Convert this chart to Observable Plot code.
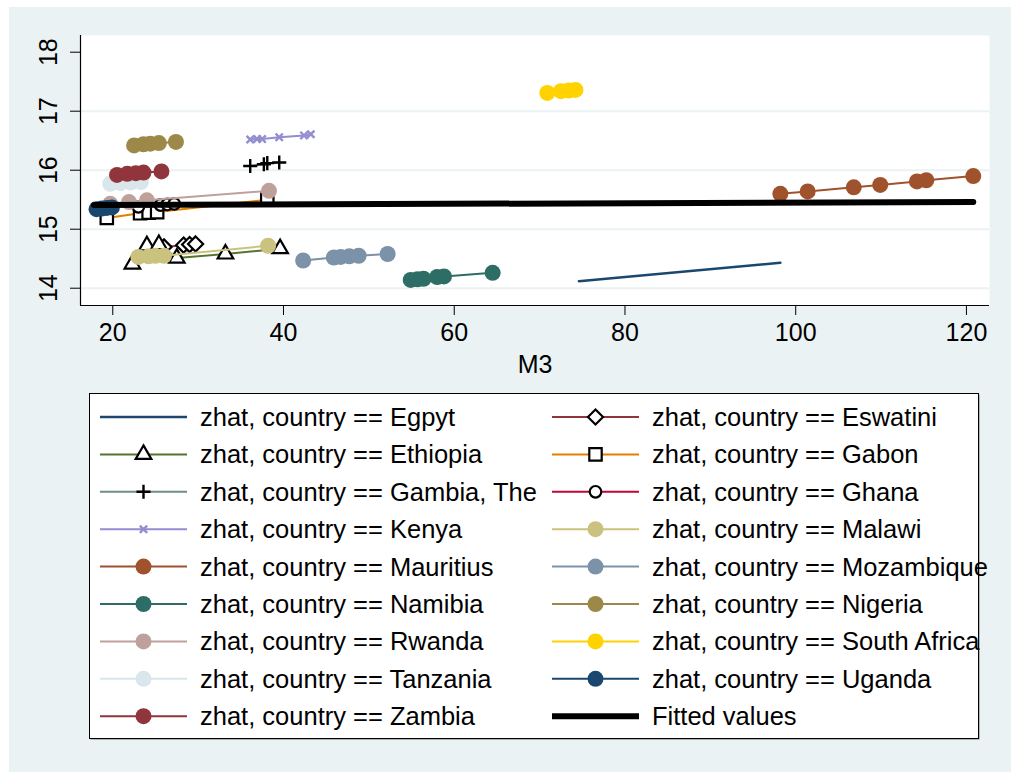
<!DOCTYPE html>
<html><head><meta charset="utf-8">
<script src="https://cdn.jsdelivr.net/npm/d3@7"></script>
<script src="https://cdn.jsdelivr.net/npm/@observablehq/plot@0.6"></script>
<style>
html,body{margin:0;padding:0;background:#fff;}
#page{position:relative;width:1011px;height:772px;overflow:hidden;background:#fff;font-family:"Liberation Sans",Arial,sans-serif;}
#bg{position:absolute;left:9px;top:7px;width:1002px;height:765px;background:#eaf2f3;}
#chart{position:absolute;left:0;top:0;}
#legend{position:absolute;left:89px;top:393px;}
</style></head><body>
<div id="page"><div id="bg"></div><div id="chart"></div><div id="legend"></div></div>
<script>
// ---- data ----
const egyptM3 = [74.6, 98.2];
const egyptZhat = [14.12, 14.43];
const eswatiniM3 = [26.0, 28.3, 29.0, 29.7];
const eswatiniZhat = [14.70, 14.73, 14.74, 14.75];
const ethiopiaM3 = [22.3, 24.0, 25.4, 27.5, 33.2, 39.6];
const ethiopiaZhat = [14.41, 14.72, 14.74, 14.51, 14.58, 14.67];
const gabonM3 = [19.3, 23.2, 24.2, 25.2, 38.1];
const gabonZhat = [15.19, 15.27, 15.28, 15.29, 15.50];
const gambiaM3 = [36.1, 37.7, 38.1, 39.5];
const gambiaZhat = [16.07, 16.10, 16.12, 16.13];
const ghanaM3 = [23.0, 25.6, 26.4, 27.2];
const ghanaZhat = [15.38, 15.41, 15.42, 15.43];
const kenyaM3 = [36.1, 36.9, 37.5, 39.5, 42.4, 43.2];
const kenyaZhat = [16.52, 16.53, 16.53, 16.56, 16.59, 16.61];
const malawiM3 = [23.0, 24.2, 25.0, 26.0, 38.2];
const malawiZhat = [14.53, 14.54, 14.55, 14.55, 14.72];
const mauritiusM3 = [98.2, 101.4, 106.8, 109.9, 114.2, 115.3, 120.8];
const mauritiusZhat = [15.60, 15.64, 15.71, 15.75, 15.81, 15.83, 15.90];
const mozambiqueM3 = [42.3, 45.9, 46.7, 47.7, 48.8, 52.2];
const mozambiqueZhat = [14.47, 14.52, 14.53, 14.54, 14.55, 14.58];
const namibiaM3 = [54.9, 55.7, 56.4, 58.0, 58.8, 64.5];
const namibiaZhat = [14.14, 14.15, 14.16, 14.19, 14.20, 14.26];
const nigeriaM3 = [22.5, 23.6, 24.4, 25.4, 27.4];
const nigeriaZhat = [16.42, 16.44, 16.45, 16.46, 16.48];
const rwandaM3 = [19.7, 21.9, 24.0, 38.3];
const rwandaZhat = [15.43, 15.46, 15.49, 15.65];
const southAfricaM3 = [70.9, 72.5, 73.4, 74.2];
const southAfricaZhat = [17.31, 17.34, 17.35, 17.36];
const tanzaniaM3 = [19.7, 20.9, 22.1, 23.3];
const tanzaniaZhat = [15.77, 15.78, 15.79, 15.80];
const ugandaM3 = [18.1, 18.7, 19.3, 19.9];
const ugandaZhat = [15.34, 15.35, 15.36, 15.37];
const zambiaM3 = [20.5, 21.7, 22.7, 23.6, 25.7];
const zambiaZhat = [15.92, 15.94, 15.95, 15.96, 15.98];
const fittedM3 = [17.8, 120.8];
const fittedZhat = [15.41, 15.46];

const xTicks = [20, 40, 60, 80, 100, 120];
const yTicks = [14, 15, 16, 17, 18];
const gridY = [14, 15, 16, 17];

// ---- styles ----
const series = [
  {name: "Egpyt", m3: egyptM3, z: egyptZhat, color: "#1a476f", symbol: null},
  {name: "Eswatini", m3: eswatiniM3, z: eswatiniZhat, color: "#90353b", symbol: "diamond2", hollow: true, r: 6.8},
  {name: "Ethiopia", m3: ethiopiaM3, z: ethiopiaZhat, color: "#55752f", symbol: "triangle", hollow: true, r: 5.8},
  {name: "Gabon", m3: gabonM3, z: gabonZhat, color: "#e37e00", symbol: "square", hollow: true, r: 7.0},
  {name: "Gambia, The", m3: gambiaM3, z: gambiaZhat, color: "#6e8e84", symbol: "plus", stroke: "black", r: 4.6},
  {name: "Ghana", m3: ghanaM3, z: ghanaZhat, color: "#c10534", symbol: "circle", hollow: true, r: 5.8},
  {name: "Kenya", m3: kenyaM3, z: kenyaZhat, color: "#938dd2", symbol: "times", stroke: "#938dd2", r: 3.4},
  {name: "Malawi", m3: malawiM3, z: malawiZhat, color: "#cac27e", symbol: "circle", r: 8},
  {name: "Mauritius", m3: mauritiusM3, z: mauritiusZhat, color: "#a0522d", symbol: "circle", r: 8},
  {name: "Mozambique", m3: mozambiqueM3, z: mozambiqueZhat, color: "#7b92a8", symbol: "circle", r: 8},
  {name: "Namibia", m3: namibiaM3, z: namibiaZhat, color: "#2d6d66", symbol: "circle", r: 8},
  {name: "Nigeria", m3: nigeriaM3, z: nigeriaZhat, color: "#9c8847", symbol: "circle", r: 8},
  {name: "Rwanda", m3: rwandaM3, z: rwandaZhat, color: "#bfa19c", symbol: "circle", r: 8},
  {name: "South Africa", m3: southAfricaM3, z: southAfricaZhat, color: "#ffd200", symbol: "circle", r: 8},
  {name: "Tanzania", m3: tanzaniaM3, z: tanzaniaZhat, color: "#d9e6eb", symbol: "circle", r: 8},
  {name: "Uganda", m3: ugandaM3, z: ugandaZhat, color: "#1a476f", symbol: "circle", r: 8},
  {name: "Zambia", m3: zambiaM3, z: zambiaZhat, color: "#90353b", symbol: "circle", r: 8}
];
series.forEach(s => { s.data = s.m3.map((x, i) => ({m3: x, zhat: s.z[i]})); });
const fitted = fittedM3.map((x, i) => ({m3: x, zhat: fittedZhat[i]}));

const FONT = '"Liberation Sans", Arial, sans-serif';
const xDomain = [16.22, 122.7];
const yDomain = [13.707, 18.283];

function markerMark(s) {
  if (!s.symbol) return null;
  if (s.hollow) return Plot.dot(s.data, {x: "m3", y: "zhat", symbol: s.symbol, r: s.r, fill: "white", stroke: "black", strokeWidth: 2.2});
  if (s.stroke) return Plot.dot(s.data, {x: "m3", y: "zhat", symbol: s.symbol, r: s.r, fill: "none", stroke: s.stroke, strokeWidth: 2.4});
  return Plot.dot(s.data, {x: "m3", y: "zhat", symbol: s.symbol, r: s.r, fill: s.color, stroke: "none"});
}

const marks = [
  Plot.frame({fill: "white", stroke: null}),
  Plot.ruleY(gridY, {stroke: "#eaf2f3", strokeWidth: 2})
];
series.forEach(s => {
  marks.push(Plot.line(s.data, {x: "m3", y: "zhat", stroke: s.color, strokeWidth: s.symbol ? 2 : 2.5}));
  const m = markerMark(s);
  if (m) marks.push(m);
});
marks.push(Plot.line(fitted, {x: "m3", y: "zhat", stroke: "black", strokeWidth: 6, strokeLinecap: "round"}));
marks.push(Plot.ruleX([xDomain[0]], {stroke: "black", strokeWidth: 1.2}));
marks.push(Plot.ruleY([yDomain[0]], {stroke: "black", strokeWidth: 1.2}));
marks.push(Plot.axisX(xTicks, {tickSize: 10, tickPadding: 8, fontSize: 25, label: null}));
marks.push(Plot.axisY(yTicks, {tickSize: 10, tickFormat: () => "", label: null}));
marks.push(Plot.text(yTicks, {y: d => d, text: d => String(d), frameAnchor: "left", dx: -32, rotate: -90, fontSize: 25, textAnchor: "middle", lineAnchor: "middle"}));
marks.push(Plot.text(["M3"], {text: d => d, frameAnchor: "bottom", dy: 59, fontSize: 25, lineAnchor: "middle"}));

const chart = Plot.plot({
  width: 1011, height: 385,
  marginLeft: 80, marginRight: 22, marginTop: 35, marginBottom: 80,
  x: {domain: xDomain, label: null},
  y: {domain: yDomain, label: null},
  style: {background: "transparent", fontFamily: FONT, color: "black", overflow: "visible"},
  marks
});
document.getElementById("chart").appendChild(chart);

// ---- legend ----
const LW = 890, LH = 346;
const lsvg = d3.create("svg").attr("width", LW).attr("height", LH).style("overflow", "visible").style("font-family", FONT);
lsvg.append("rect").attr("x", 1.5).attr("y", 1.5).attr("width", LW - 1).attr("height", LH - 1).attr("fill", "#777");
lsvg.append("rect").attr("x", 0.5).attr("y", 0.5).attr("width", LW - 1).attr("height", LH - 1).attr("fill", "white").attr("stroke", "black").attr("stroke-width", 1);
const symMap = {circle: d3.symbolCircle, triangle: d3.symbolTriangle, square: d3.symbolSquare, diamond2: d3.symbolDiamond2, plus: d3.symbolPlus, times: d3.symbolTimes};
const legendItems = series.map(s => ({label: "zhat, country == " + s.name, s})).concat([{label: "Fitted values", fitted: true}]);
legendItems.forEach((it, i) => {
  const col = i % 2, row = Math.floor(i / 2);
  const x0 = col === 0 ? 11 : 463;
  const cy = 24 + row * 37.4;
  const g = lsvg.append("g");
  if (it.fitted) {
    g.append("line").attr("x1", x0).attr("x2", x0 + 87).attr("y1", cy).attr("y2", cy).attr("stroke", "black").attr("stroke-width", 6);
  } else {
    const s = it.s;
    g.append("line").attr("x1", x0).attr("x2", x0 + 87).attr("y1", cy).attr("y2", cy).attr("stroke", s.color).attr("stroke-width", s.symbol ? 2 : 2.5);
    if (s.symbol) {
      const p = g.append("path").attr("transform", `translate(${x0 + 43.5},${cy})`)
        .attr("d", d3.symbol(symMap[s.symbol], Math.PI * s.r * s.r)());
      if (s.hollow) p.attr("fill", "white").attr("stroke", "black").attr("stroke-width", 2.2);
      else if (s.stroke) p.attr("fill", "none").attr("stroke", s.stroke).attr("stroke-width", 2.4);
      else p.attr("fill", s.color);
    }
  }
  g.append("text").attr("x", x0 + 100).attr("y", cy).attr("dy", "0.35em").attr("font-size", 25.5).attr("fill", "black").text(it.label);
});
document.getElementById("legend").appendChild(lsvg.node());
</script>
</body></html>
